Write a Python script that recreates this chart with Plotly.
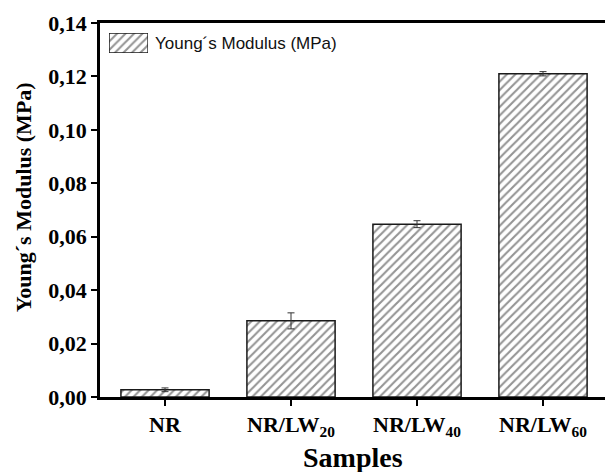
import plotly.graph_objects as go

samples = ["NR", "NR/LW<sub>20</sub>", "NR/LW<sub>40</sub>", "NR/LW<sub>60</sub>"]
modulus = [0.0027, 0.0285, 0.0647, 0.1210]
modulus_err = [0.0007, 0.0030, 0.0013, 0.0008]
y_ticks = [0.00, 0.02, 0.04, 0.06, 0.08, 0.10, 0.12, 0.14]
series_name = "Young´s Modulus (MPa)"

SERIF = "Liberation Serif, Times New Roman, serif"
SANS = "Liberation Sans, Arial, sans-serif"
hatch = dict(shape="/", fgcolor="#2a2a2a", bgcolor="white", size=6, solidity=0.35)

fig = go.Figure()
fig.add_trace(go.Bar(
    x=list(range(len(samples))),
    y=modulus,
    width=0.7,
    name=series_name,
    showlegend=False,
    marker=dict(color="white", line=dict(color="#1a1a1a", width=1.5), pattern=hatch),
    error_y=dict(type="data", array=modulus_err, color="#333333", thickness=1, width=3.5),
))

# legend key: a single hatched swatch in a small inset axis
fig.add_trace(go.Bar(
    x=[0], y=[1], width=1, xaxis="x2", yaxis="y2", showlegend=False, hoverinfo="skip",
    marker=dict(color="white", line=dict(color="#1a1a1a", width=1.3), pattern=hatch),
))

tick_font = dict(family=SERIF, size=22, color="black", weight="bold")

fig.update_layout(
    width=605, height=472,
    margin=dict(l=100, r=0, t=23, b=75),
    plot_bgcolor="white", paper_bgcolor="white",
    separators=",.",
    xaxis=dict(
        range=[-0.516, 3.492],
        tickmode="array", tickvals=list(range(len(samples))), ticktext=samples,
        ticks="outside", ticklen=6, tickwidth=2, tickcolor="black",
        showline=True, linecolor="black", linewidth=2.5, mirror=True,
        showgrid=False, zeroline=False, tickfont=tick_font,
    ),
    yaxis=dict(
        range=[0, 0.14],
        tickmode="array", tickvals=y_ticks, tickformat=".2f",
        ticks="outside", ticklen=6, tickwidth=2, tickcolor="black",
        showline=True, linecolor="black", linewidth=2.5, mirror=False,
        showgrid=False, zeroline=False, tickfont=tick_font,
    ),
    xaxis2=dict(domain=[0.018, 0.095], range=[-0.5, 0.5], anchor="y2", visible=False, fixedrange=True),
    yaxis2=dict(domain=[0.92, 0.973], range=[0, 1], anchor="x2", visible=False, fixedrange=True),
    annotations=[
        dict(text=series_name, xref="paper", yref="paper", x=0.104, y=0.945,
             xanchor="left", yanchor="middle", showarrow=False,
             font=dict(family=SANS, size=17, color="#111111")),
        dict(text="<b>Samples</b>", xref="paper", yref="paper", x=0.5, y=-0.163,
             xanchor="center", yanchor="middle", showarrow=False,
             font=dict(family=SERIF, size=28, color="black")),
        dict(text="<b>Young´s Modulus (MPa)</b>", xref="paper", yref="paper", x=-0.15, y=0.535,
             xanchor="center", yanchor="middle", textangle=-90, showarrow=False,
             font=dict(family=SERIF, size=22, color="black")),
    ],
)

fig.write_html("out.html")
